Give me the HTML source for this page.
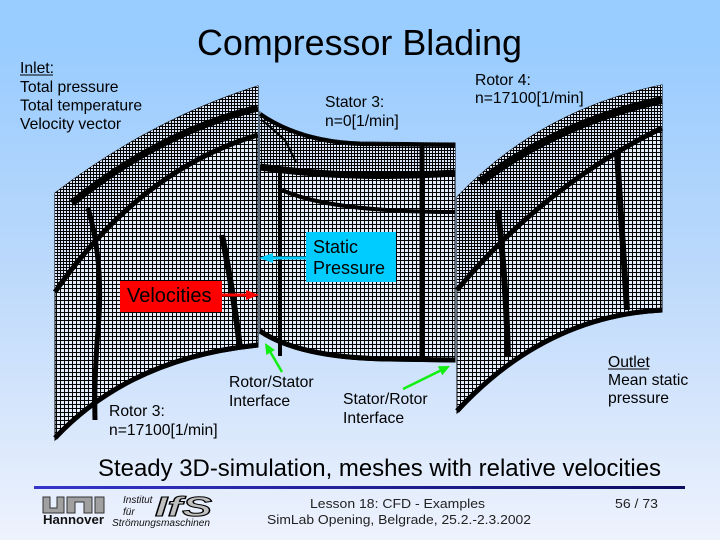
<!DOCTYPE html>
<html><head><meta charset="utf-8"><style>
html,body{margin:0;padding:0;width:720px;height:540px;overflow:hidden;}
svg{display:block;}
text{font-family:"Liberation Sans",Arial,sans-serif;}
</style></head><body>
<svg width="720" height="540" viewBox="0 0 720 540" xmlns="http://www.w3.org/2000/svg">
<defs>
<linearGradient id="bg" x1="0" y1="0" x2="0" y2="1">
<stop offset="0" stop-color="#99ccff"/>
<stop offset="0.08" stop-color="#99ccff"/>
<stop offset="0.5" stop-color="#bcd9fb"/>
<stop offset="1" stop-color="#eef2fd"/>
</linearGradient>
<linearGradient id="bl" x1="0" y1="0" x2="1" y2="0">
<stop offset="0" stop-color="#3535cc"/>
<stop offset="1" stop-color="#0c0c60"/>
</linearGradient>
<pattern id="m" width="4" height="4" patternUnits="userSpaceOnUse">
<rect width="4" height="4" fill="#e4eefa"/><rect width="1" height="4" fill="#000"/><rect width="4" height="1" fill="#000"/>
</pattern>
<pattern id="d" width="3" height="3" patternUnits="userSpaceOnUse">
<rect width="3" height="3" fill="#d8e6f8"/><rect width="1" height="3" fill="#000"/><rect width="3" height="1" fill="#000"/>
</pattern>
</defs>
<rect width="720" height="540" fill="url(#bg)"/>

<!-- Left block: Rotor 3 -->
<path d="M55,193 Q150,120 258,86 L258,347 Q130,360 55,440 Z" fill="url(#m)" stroke="#000" stroke-width="1"/>
<path d="M55,193 Q150,120 258,86 L258,135 Q140,170 55,292 Z" fill="url(#d)"/>
<path d="M72,203 Q160,132 258,108" fill="none" stroke="#000" stroke-width="7"/>
<path d="M55,292 Q140,170 258,135" fill="none" stroke="#000" stroke-width="5"/>
<path d="M88,208 Q104,262 98,330 Q94,380 95,420" fill="none" stroke="#000" stroke-width="5"/>
<path d="M222,235 Q233,290 240,348" fill="none" stroke="#000" stroke-width="6"/>
<path d="M258,345 Q130,358 55,438" fill="none" stroke="#000" stroke-width="5"/>

<!-- Stator 3 -->
<path d="M260,112 Q300,140 360,142 L455,143 L455,362 L390,361 Q300,360 260,333 Z" fill="url(#m)" stroke="#000" stroke-width="1"/>
<path d="M260,112 Q300,140 360,142 L455,143 L455,173 Q350,180 260,167 Z" fill="url(#d)"/>
<path d="M260,114 Q300,142 360,144 L455,145" fill="none" stroke="#000" stroke-width="4"/>
<path d="M262,120 L285,140 L296,162" fill="none" stroke="#000" stroke-width="2"/>
<path d="M260,167 Q350,180 455,173" fill="none" stroke="#000" stroke-width="7"/>
<path d="M282,190 Q330,212 455,212" fill="none" stroke="#000" stroke-width="4"/>
<path d="M280,172 L280,356" stroke="#000" stroke-width="4"/>
<path d="M422,145 L422,362" stroke="#000" stroke-width="5"/>
<path d="M455,360 L390,359 Q300,358 260,331" fill="none" stroke="#000" stroke-width="5"/>

<!-- Right block: Rotor 4 -->
<path d="M457,197 Q540,110 662,85 L662,312 Q545,318 457,413 Z" fill="url(#m)" stroke="#000" stroke-width="1"/>
<path d="M457,197 Q540,110 662,85 L662,128 Q545,185 457,290 Z" fill="url(#d)"/>
<path d="M480,182 Q560,122 662,100" fill="none" stroke="#000" stroke-width="8"/>
<path d="M457,290 Q545,185 662,128" fill="none" stroke="#000" stroke-width="5"/>
<path d="M498,210 Q506,280 508,357" fill="none" stroke="#000" stroke-width="6"/>
<path d="M617,153 Q622,230 627,310" fill="none" stroke="#000" stroke-width="6"/>
<path d="M662,310 Q545,316 457,411" fill="none" stroke="#000" stroke-width="5"/>

<!-- Title -->
<text x="197" y="55" font-size="36" textLength="325" lengthAdjust="spacingAndGlyphs">Compressor Blading</text>

<!-- Labels -->
<g font-size="15.7" fill="#000">
<text x="20" y="73">Inlet:</text>
<text x="20" y="92">Total pressure</text>
<text x="20" y="110.5">Total temperature</text>
<text x="20" y="129">Velocity vector</text>
<text x="325" y="107">Stator 3:</text>
<text x="325" y="126">n=0[1/min]</text>
<text x="475" y="85">Rotor 4:</text>
<text x="475" y="103">n=17100[1/min]</text>
<text x="109" y="416">Rotor 3:</text>
<text x="109" y="435">n=17100[1/min]</text>
<text x="229" y="387">Rotor/Stator</text>
<text x="229" y="406">Interface</text>
<text x="343" y="404">Stator/Rotor</text>
<text x="343" y="423">Interface</text>
<text x="608" y="367">Outlet</text>
<text x="608" y="385">Mean static</text>
<text x="608" y="403">pressure</text>
</g>
<rect x="20" y="74.5" width="33" height="1" fill="#000"/>
<rect x="608" y="368.5" width="41" height="1" fill="#000"/>

<!-- Velocities -->
<rect x="120" y="281" width="102" height="31" fill="#ff0000"/>
<text x="127" y="302" font-size="20" fill="#000">Velocities</text>
<line x1="222" y1="295" x2="248" y2="295" stroke="#ff0000" stroke-width="3"/>
<polygon points="246,290 259,295 246,300" fill="#ff0000"/>

<!-- Static Pressure -->
<rect x="306" y="232" width="90" height="50" fill="#00ccff"/>
<text x="313" y="253" font-size="18" fill="#000">Static</text>
<text x="313" y="274" font-size="18" fill="#000">Pressure</text>
<line x1="306" y1="258" x2="272" y2="258" stroke="#00ccff" stroke-width="3"/>
<polygon points="273,253 259,258 273,263" fill="#00ccff"/>

<!-- Green arrows -->
<line x1="282" y1="372" x2="270.6" y2="352.5" stroke="#11ee11" stroke-width="2.5"/>
<polygon points="265,343 274.9,350 266.3,355" fill="#11ee11"/>
<line x1="403" y1="389" x2="440.1" y2="370.8" stroke="#11ee11" stroke-width="2.5"/>
<polygon points="450,366 442.3,375.3 437.9,366.3" fill="#11ee11"/>

<!-- Bottom caption -->
<text x="98" y="476" font-size="24" textLength="563" lengthAdjust="spacingAndGlyphs">Steady 3D-simulation, meshes with relative velocities</text>
<rect x="34" y="486" width="651" height="3" fill="url(#bl)"/>

<!-- Logo -->
<path d="M43,497 h7 v11 h7 v-11 h7 v16 h-21 z" fill="#a0a0a0" stroke="#333" stroke-width="1"/>
<path d="M67,513 v-16 h25 v16 h-8 v-11 h-9 v11 z" fill="#a0a0a0" stroke="#333" stroke-width="1"/>
<rect x="95" y="497" width="9" height="16" fill="#a0a0a0" stroke="#333" stroke-width="1"/>
<text x="43" y="524" font-size="13" font-weight="bold" textLength="61" lengthAdjust="spacingAndGlyphs" fill="#111">Hannover</text>
<text x="123" y="503" font-size="10" font-style="italic" fill="#111">Institut</text>
<text x="123" y="515" font-size="10" font-style="italic" fill="#111">für</text>
<text x="112" y="526" font-size="10" font-style="italic" textLength="98" lengthAdjust="spacingAndGlyphs" fill="#111">Strömungsmaschinen</text>
<text x="155" y="516" font-size="28" font-weight="bold" font-style="italic" fill="#c0c0c0" stroke="#000" stroke-width="1" textLength="57" lengthAdjust="spacingAndGlyphs" font-family="Liberation Serif, serif">IfS</text>

<!-- Footer -->
<g font-size="13" fill="#222">
<text x="310" y="508" textLength="175" lengthAdjust="spacingAndGlyphs">Lesson 18: CFD - Examples</text>
<text x="267" y="524" textLength="264" lengthAdjust="spacingAndGlyphs">SimLab Opening, Belgrade, 25.2.-2.3.2002</text>
<text x="615" y="508" textLength="43" lengthAdjust="spacingAndGlyphs">56 / 73</text>
</g>
</svg>
</body></html>
